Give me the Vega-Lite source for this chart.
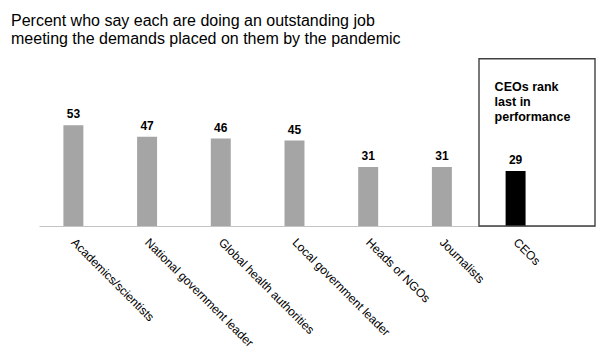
{
  "$schema": "https://vega.github.io/schema/vega-lite/v6.json",
  "width": 556,
  "height": 171,
  "autosize": {"type": "none"},
  "padding": {"left": 39, "top": 55, "right": 5, "bottom": 131},
  "background": "white",
  "title": {
    "text": ["Percent who say each are doing an outstanding job", "meeting the demands placed on them by the pandemic"],
    "anchor": "start",
    "frame": "group",
    "dx": -28,
    "offset": 8,
    "font": "Liberation Sans",
    "fontSize": 16,
    "fontWeight": "normal",
    "color": "#000000",
    "lineHeight": 18
  },
  "config": {
    "view": {"stroke": null},
    "font": "Liberation Sans"
  },
  "data": {
    "values": [
      {"group": "Academics/scientists", "pct": 53},
      {"group": "National government leader", "pct": 47},
      {"group": "Global health authorities", "pct": 46},
      {"group": "Local government leader", "pct": 45},
      {"group": "Heads of NGOs", "pct": 31},
      {"group": "Journalists", "pct": 31},
      {"group": "CEOs", "pct": 29}
    ]
  },
  "layer": [
    {
      "mark": {"type": "bar"},
      "encoding": {
        "x": {
          "field": "group",
          "type": "nominal",
          "sort": null,
          "scale": {"paddingInner": 0.729, "paddingOuter": 0.6365, "align": 0.26},
          "axis": {
            "title": null,
            "labelAngle": 45,
            "labelAlign": "left",
            "labelBaseline": "middle",
            "labelPadding": 14,
            "labelFontSize": 12,
            "labelColor": "#000000",
            "labelFont": "Liberation Sans",
            "labelLimit": 300,
            "ticks": false,
            "domainColor": "#c4c4c4",
            "domainWidth": 1.2,
            "grid": false
          }
        },
        "y": {
          "field": "pct",
          "type": "quantitative",
          "scale": {"domain": [0, 88]},
          "axis": null
        },
        "color": {
          "condition": {"test": "datum.group === 'CEOs'", "value": "#000000"},
          "value": "#a5a5a5"
        }
      }
    },
    {
      "mark": {"type": "text", "fontWeight": "bold", "fontSize": 12, "baseline": "alphabetic", "dy": -7, "color": "#000000"},
      "encoding": {
        "x": {"field": "group", "type": "nominal", "sort": null},
        "y": {"field": "pct", "type": "quantitative"},
        "text": {"field": "pct", "type": "quantitative"}
      }
    },
    {
      "mark": {"type": "rect", "fill": "transparent", "stroke": "#404040", "strokeWidth": 1.4},
      "encoding": {
        "x": {"field": "group", "type": "nominal", "sort": null, "bandPosition": -1.332},
        "x2": {"value": {"expr": "width"}},
        "y": {"datum": 88, "type": "quantitative"},
        "y2": {"datum": 0},
        "strokeOpacity": {
          "condition": {"test": "datum.group === 'CEOs'", "value": 1},
          "value": 0
        }
      }
    },
    {
      "mark": {"type": "text", "fontWeight": "bold", "fontSize": 12.5, "align": "left", "baseline": "alphabetic", "lineHeight": 15, "color": "#000000"},
      "encoding": {
        "x": {"field": "group", "type": "nominal", "sort": null, "bandPosition": -0.55},
        "y": {"datum": 71, "type": "quantitative"},
        "text": {
          "condition": {"test": "datum.group === 'CEOs'", "value": ["CEOs rank", "last in", "performance"]},
          "value": ""
        }
      }
    }
  ]
}
